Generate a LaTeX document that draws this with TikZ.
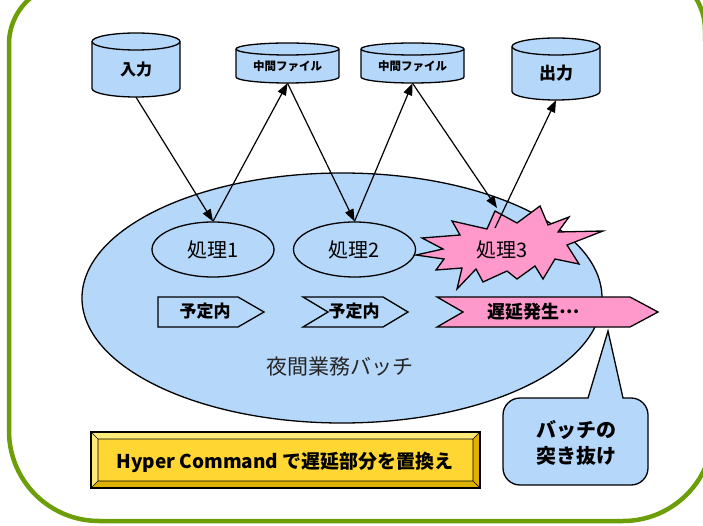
\documentclass[tikz,border=0pt]{standalone}
\usepackage{fontspec}
\setmainfont{Noto Sans CJK JP}
\usetikzlibrary{arrows.meta,shapes.geometric}
\definecolor{dbblue}{RGB}{180,215,250}
\definecolor{framegreen}{RGB}{108,158,8}
\definecolor{burstpink}{RGB}{255,153,204}
\definecolor{goldmid}{RGB}{255,214,50}
\definecolor{goldlight}{RGB}{255,234,120}
\definecolor{golddark}{RGB}{222,176,0}
\tikzset{
  db/.style={draw=black, line width=1.3pt, fill=dbblue},
  dbline/.style={draw=black, line width=1.3pt},
  flow/.style={-{Triangle[length=12pt,width=9pt]}, line width=1.2pt},
  proc/.style={ellipse, draw=black, line width=1.3pt, fill=dbblue, inner sep=0pt,
               minimum width=122pt, minimum height=55pt, font=\fontsize{20}{22}\selectfont},
  chev/.style={draw=black, line width=1.3pt},
  boldlbl/.style={font=\bfseries\fontsize{#1}{#1}\selectfont, inner sep=0pt},
  boldlbl/.default=16
}
\newcommand{\dbcylinder}[8]{%
  \pgfmathsetmacro{\cxa}{(#2+#3)/2}%
  \pgfmathsetmacro{\crx}{(#3-#2)/2}%
  \pgfmathsetmacro{\cwd}{#3-#2}%
  \pgfmathsetmacro{\cht}{#5-#4}%
  \pgfmathsetmacro{\cyt}{#4+#6}%
  \pgfmathsetmacro{\cyb}{#5-#6}%
  \pgfmathsetmacro{\cym}{(#4+#5)/2}%
  \pgfmathsetmacro{\cty}{(#4+#5+#6)/2}%
  \draw[db] (#2,\cyt) -- (#2,\cyb) arc[start angle=180,end angle=360,x radius=\crx pt,y radius=#6 pt]
     -- (#3,\cyt) arc[start angle=0,end angle=180,x radius=\crx pt,y radius=#6 pt] -- cycle;
  \draw[dbline] (#2,\cyt) arc[start angle=180,end angle=360,x radius=\crx pt,y radius=#6 pt];
  \node[inner sep=0pt, minimum width=\cwd pt, minimum height=\cht pt] (#1) at (\cxa,\cym) {};
  \node[boldlbl=#8] (#1-t) at (\cxa,\cty) {#7};
}
\begin{document}
\begin{tikzpicture}[x=1pt,y=-1pt]
\useasboundingbox (0,0) rectangle (703,526);

% outer green frame
\draw[framegreen, line width=4.5pt]
  (69,-16) -- (645,-30) arc[start angle=90,end angle=0,radius=60pt]
  -- (713,431) arc[start angle=0,end angle=-90,radius=90pt]
  -- (99,521) arc[start angle=270,end angle=180,radius=90pt]
  -- (9,44) arc[start angle=180,end angle=90,radius=60pt] -- cycle;

% big ellipse
\node[ellipse, draw=black, line width=1.3pt, fill=dbblue, inner sep=0pt,
      minimum width=520pt, minimum height=250pt] (batch) at (342,298) {};
\node[font=\fontsize{21}{23}\selectfont, text=black!85, inner sep=0pt] (batchlbl) at (340,367) {夜間業務バッチ};

% cylinders
\dbcylinder{in1}{92}{180}{33}{97}{8.5}{入力}{16}
\dbcylinder{mid1}{236}{339}{43}{83}{6}{中間ファイル}{11.5}
\dbcylinder{mid2}{361}{464}{43}{83}{6}{中間ファイル}{11.5}
\dbcylinder{out}{512}{600}{38}{100}{8.5}{出力}{17}

% processes
\node[proc] (p1) at (213,249.5) {処理1};
\node[proc] (p2) at (354.5,249.5) {処理2};

% starburst
\draw[fill=burstpink, draw=black, line width=1.3pt]
  (540,206) -- (548,225) -- (569,217) -- (558,232) -- (603,231) -- (567,245)
  -- (579,264) -- (555,259) -- (543,279) -- (535,266) -- (517,279) -- (507,271)
  -- (483,282) -- (476,269) -- (457,289) -- (462,268) -- (436,270) -- (444,259)
  -- (416,255) -- (443,249) -- (422,238) -- (460,235) -- (452,221) -- (487,229)
  -- (495,211) -- (517,223) -- cycle;
\node[font=\fontsize{20}{22}\selectfont, inner sep=0pt] (p3) at (502,250) {処理3};

% chevrons
\draw[chev, fill=dbblue] (158,297) -- (238,297) -- (264,312) -- (238,327) -- (158,327) -- cycle;
\node[boldlbl=17] (c1) at (205,311) {予定内};
\draw[chev, fill=dbblue] (303,297) -- (383,297) -- (408,312) -- (383,327) -- (303,327) -- (328,312) -- cycle;
\node[boldlbl=17] (c2) at (354,311) {予定内};
\draw[chev, fill=burstpink] (437,297) -- (630,297) -- (658,312) -- (630,327) -- (437,327) -- (463,312) -- cycle;
\node[boldlbl=18] (c3) at (534,312) {遅延発生\raisebox{0.32em}{…}};

% callout
\draw[draw=black, line width=1.3pt, fill=dbblue]
  (588,398) -- (608,331) -- (623,398) [rounded corners=17pt] -- (648,398) -- (648,485)
  -- (503,485) -- (503,398) [sharp corners] -- (588,398) -- cycle;
\node[boldlbl=20, align=center] (callout) at (576,443) {バッチの\\[6pt]突き抜け};

% yellow bevel box
\fill[goldmid] (91,432) rectangle (480,488);
\fill[goldlight] (91,432) -- (480,432) -- (473,439) -- (98,439) -- cycle;
\fill[goldlight] (91,432) -- (98,439) -- (98,481) -- (91,488) -- cycle;
\fill[golddark] (91,488) -- (98,481) -- (473,481) -- (480,488) -- cycle;
\fill[golddark] (480,432) -- (473,439) -- (473,481) -- (480,488) -- cycle;
\draw[black, line width=0.6pt] (98,439) rectangle (473,481)
  (91,432) -- (98,439) (480,432) -- (473,439) (91,488) -- (98,481) (480,488) -- (473,481);
\draw[black, line width=1.6pt] (91,432) rectangle (480,488);
\node[boldlbl=19] (hyper) at (285,462) {Hyper Command で遅延部分を置換え};

% connectors
\coordinate (p3in) at (497,208);
\coordinate (p3out) at (495,228);
\draw[flow] (in1.south) -- (p1.north);
\draw[flow] (p1.north) -- (mid1.south);
\draw[flow] (mid1.south) -- (p2.north);
\draw[flow] (p2.north) -- (mid2.south);
\draw[flow] (mid2.south) -- (p3in);
\draw[flow] (p3out) -- (out.south);
\end{tikzpicture}
\end{document}
